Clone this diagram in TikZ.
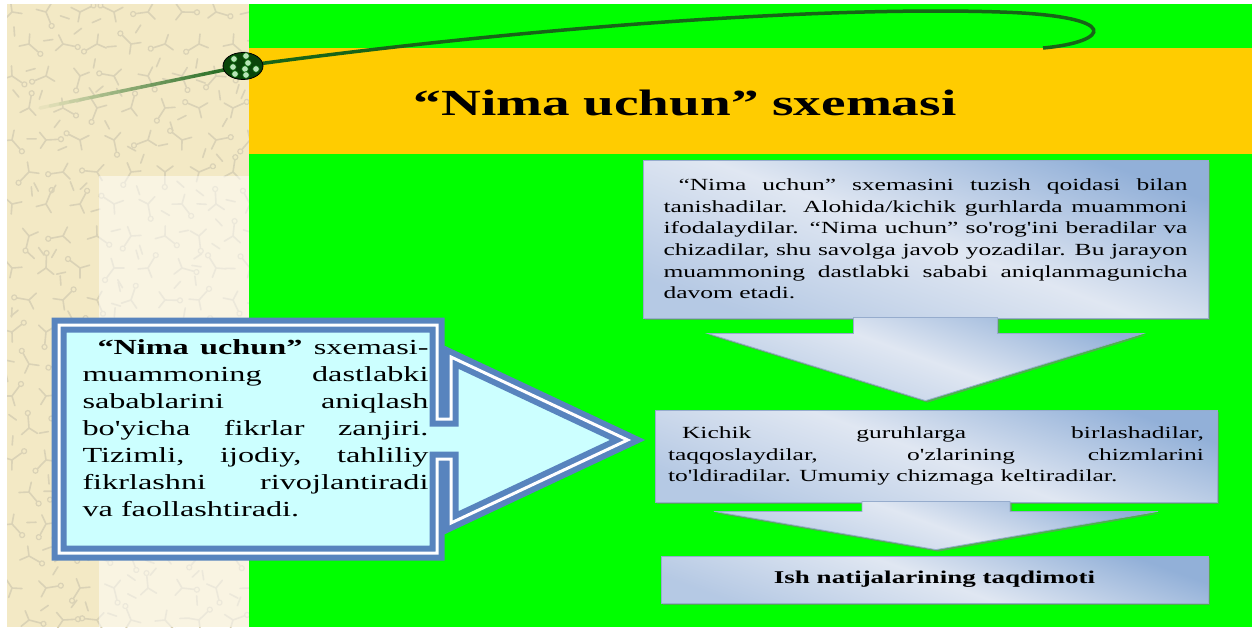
\documentclass[tikz,border=0pt]{standalone}
\usepackage{fontspec}
\setmainfont{Liberation Serif}[FakeStretch=1.5, Ligatures=TeXOff]
\usetikzlibrary{calc, positioning, shadows, shapes.geometric}
\definecolor{leafgreen}{RGB}{0,255,0}
\definecolor{bandorange}{RGB}{255,204,0}
\definecolor{paperbeige}{RGB}{243,233,197}
\definecolor{scribble}{RGB}{218,210,182}
\definecolor{vinegreen}{RGB}{24,100,24}
\definecolor{balldark}{RGB}{10,70,10}
\definecolor{callblue}{RGB}{88,132,190}
\definecolor{callfill}{RGB}{204,255,255}
\definecolor{steelblue}{RGB}{146,176,216}
\definecolor{paleblue}{RGB}{224,231,242}
\definecolor{boxedge}{RGB}{150,172,205}

\begin{document}
\begin{tikzpicture}[
    x=1pt, y=-1pt,
    stepbox/.style={draw=boxedge, line width=0.8pt, shading=axis, top color=steelblue,
      bottom color=steelblue!55!paleblue, middle color=paleblue, shading angle=-20,
      drop shadow={shadow xshift=2pt, shadow yshift=-2pt, fill=black!50, opacity=0.6}},
    boxtext/.style={font=\fontsize{17}{21.6}\selectfont, align=justify},
    motif/.style={scribble, line width=1.6pt, line cap=round}
  ]
  \useasboundingbox (0,0) rectangle (1258,629);
  \fill[white] (0,0) rectangle (1258,629);

  % left paper strip
  \fill[paperbeige] (7,4) rectangle (249,627);
  \begin{scope}
    \clip (7,4) rectangle (249,627);
    \pgfmathsetseed{7}
    \foreach \i in {0,...,7}
      \foreach \j in {0,...,19} {
        \pgfmathsetmacro{\ang}{rnd*360}
        \pgfmathsetmacro{\mx}{12+\i*34+mod(\j,2)*17}
        \pgfmathsetmacro{\my}{12+\j*32}
        \begin{scope}[shift={(\mx,\my)}, rotate=\ang]
          \draw[motif] (0,0) -- (0,12) (0,0) -- (-8,-6) (0,0) -- (8,-6) (12,9) -- (19,15);
          \draw[scribble, line width=1.2pt] (0,15) circle (2.5pt);
        \end{scope}
      }
  \end{scope}
  \fill[white, opacity=0.5] (99,176) rectangle (249,627);

  % green field and title band
  \fill[leafgreen] (249,4) rectangle (1252,627);
  \fill[bandorange] (249,48) rectangle (1252,154);

  % vine with its knot
  \coordinate (knot) at (243,66);
  \coordinate (tailend) at (40,108);
  \foreach \k in {0,...,19} {
    \pgfmathtruncatemacro{\pct}{5*\k+5}
    \pgfmathsetmacro{\ta}{\k/20}
    \pgfmathsetmacro{\tb}{\k/20+0.05}
    \draw[vinegreen!\pct!paperbeige, line width=3.5pt, line cap=round]
      ($(tailend)!\ta!(knot)$) -- ($(tailend)!\tb!(knot)$);
  }
  \draw[vinegreen, line width=3.5pt] (knot) .. controls (520,28) and (820,6) .. (1000,12)
    .. controls (1125,16) and (1110,42) .. (1043,48);
  \node[ellipse, draw=black, line width=0.8pt, fill=balldark, minimum width=40pt,
    minimum height=27pt, inner sep=0pt] (ball) at (knot) {};
  \foreach \dx/\dy in {-9/-7, 3/-10, 5/-3, -10/1, 2/3, 13/3, -8/8, 3/9}
    \draw[fill=white!80!green!90!black, draw=black!60!green, line width=0.5pt]
      (ball.center) ++(\dx,\dy) circle (3.3pt);

  \node[anchor=base, font=\fontsize{36.8}{40}\selectfont\bfseries] (title) at (685,115)
    {“Nima uchun” sxemasi};

  % steps on the right
  \node[stepbox, boxtext, text width=524pt, minimum width=565pt, minimum height=158pt,
    inner sep=0pt] (box1) at (925.5,239)
    {\hspace*{15pt}“Nima uchun” sxemasini tuzish qoidasi bilan\linebreak
     tanishadilar. Alohida/kichik gurhlarda muammoni\linebreak
     ifodalaydilar. “Nima uchun” so'rog'ini beradilar va\linebreak
     chizadilar, shu savolga javob yozadilar. Bu jarayon\linebreak
     muammoning dastlabki sababi aniqlanmagunicha\linebreak
     davom etadi.};
  \node[stepbox, boxtext, text width=536pt, minimum width=562pt, minimum height=92pt,
    inner sep=0pt] (box2) at (936,456)
    {\hspace*{14pt}Kichik guruhlarga birlashadilar,\linebreak
     taqqoslaydilar, o'zlarining chizmlarini\linebreak
     to'ldiradilar. Umumiy chizmaga keltiradilar.};
  \node[stepbox, font=\fontsize{18}{22}\selectfont\bfseries, minimum width=547pt,
    minimum height=47pt, inner sep=0pt] (box3) at (934.5,579.5)
    {Ish natijalarining taqdimoti};

  \coordinate (tip1) at ($(box1.south |- box2.north)+(0,-9)$);
  \path[stepbox] ($(box1.south)+(-72,-1)$) -- ++(0,16) -- ++(-146,0) -- (tip1)
    -- ($(box1.south)+(218,15)$) -- ++(-146,0) -- ++(0,-16) -- cycle;
  \coordinate (tip2) at ($(box2.south |- box3.north)+(0,-6)$);
  \path[stepbox] ($(box2.south)+(-74,-1)$) -- ++(0,10) -- ++(-148,0) -- (tip2)
    -- ($(box2.south)+(222,9)$) -- ++(-148,0) -- ++(0,-10) -- cycle;

  % callout on the left
  \coordinate (calltip) at ($(box2.west)+(-27,-16)$);
  \fill[callfill] (59,325) -- (437,325) -- (437,419) -- (451,419) -- (451,357) -- (calltip)
    -- (451,523) -- (451,459) -- (437,459) -- (437,553) -- (59,553) -- cycle;
  \draw[callblue, line width=15pt, line join=miter] (59,325) -- (437,325) -- (437,419)
    -- (451,419) -- (451,357) -- (calltip) -- (451,523) -- (451,459) -- (437,459)
    -- (437,553) -- (59,553) -- cycle;
  \draw[white, line width=3pt, line join=miter] (59,325) -- (437,325) -- (437,419)
    -- (451,419) -- (451,357) -- (calltip) -- (451,523) -- (451,459) -- (437,459)
    -- (437,553) -- (59,553) -- cycle;
  \node[text width=346pt, align=justify, font=\fontsize{21.5}{27}\selectfont,
    inner sep=0pt] (reason) at (255.5,428)
    {\hspace*{15pt}\textbf{“Nima uchun”} sxemasi-\linebreak
     muammoning dastlabki\linebreak
     sabablarini aniqlash\linebreak
     bo'yicha fikrlar zanjiri.\linebreak
     Tizimli, ijodiy, tahliliy\linebreak
     fikrlashni rivojlantiradi\linebreak
     va faollashtiradi.};
\end{tikzpicture}
\end{document}
